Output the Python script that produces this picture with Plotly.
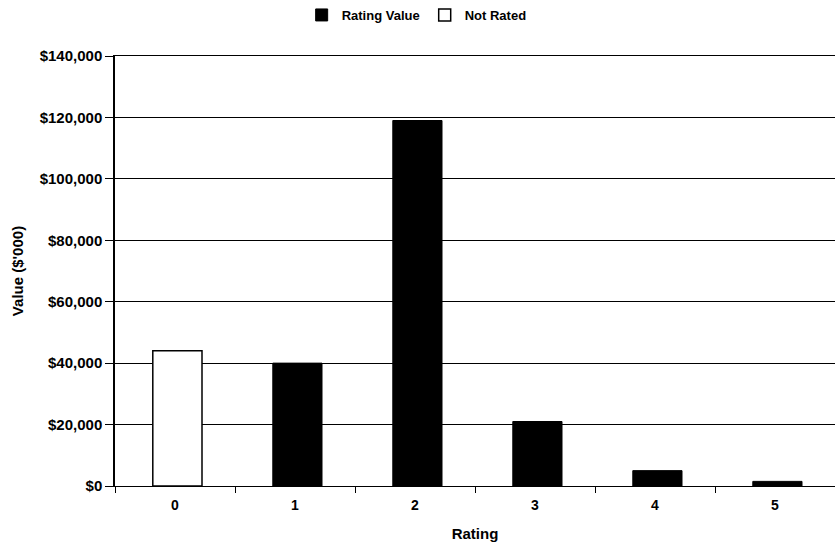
import plotly.graph_objects as go

categories = ["0", "1", "2", "3", "4", "5"]
rating_value = [None, 40000, 119000, 21000, 5000, 1500]
not_rated = [44000, None, None, None, None, None]
y_ticks = [0, 20000, 40000, 60000, 80000, 100000, 120000, 140000]
y_tick_labels = ["$0", "$20,000", "$40,000", "$60,000", "$80,000", "$100,000", "$120,000", "$140,000"]

fam = "Liberation Sans, Arial, sans-serif"
font = dict(family=fam, size=12, color="black")

fig = go.Figure()
fig.add_trace(go.Bar(x=categories, y=rating_value, name="Rating Value",
                     marker=dict(color="black", line=dict(color="black", width=1)),
                     width=0.41, offset=-0.185))
fig.add_trace(go.Bar(x=categories, y=not_rated, name="Not Rated",
                     marker=dict(color="white", line=dict(color="black", width=1.5)),
                     width=0.41, offset=-0.185))

fig.update_layout(
    width=835, height=547,
    margin=dict(l=115, r=0, t=56, b=61, autoexpand=False),
    paper_bgcolor="white", plot_bgcolor="white",
    barmode="overlay",
    font=font,
    showlegend=True,
    legend=dict(orientation="h", x=0.499, xanchor="center", xref="container",
                y=0.9726, yanchor="middle", yref="container",
                font=dict(size=13, color="black", weight="bold"),
                itemwidth=30, traceorder="normal"),
    xaxis=dict(type="category", tickson="boundaries", ticks="outside", ticklen=6,
               tickcolor="black", showgrid=False, showline=True, linecolor="black",
               linewidth=1, mirror=True, range=[-0.5, 5.5], automargin=False,
               ticklabelstandoff=6,
               title=dict(text="Rating", font=dict(size=15, weight="bold"), standoff=16),
               tickfont=dict(size=14, family=fam, weight="bold")),
    yaxis=dict(range=[0, 140000], tickvals=y_ticks, ticktext=y_tick_labels,
               ticks="outside", ticklen=8, tickcolor="black", automargin=False,
               showgrid=True, gridcolor="black", gridwidth=1,
               showline=True, linecolor="black", linewidth=1.5,
               zeroline=False,
               title=dict(text="Value ($'000)", font=dict(size=15, weight="bold"), standoff=12),
               tickfont=dict(size=15, weight="bold")),
)

fig.write_html("out.html", config={"displayModeBar": False},
               post_script="document.body.style.margin='0';")
